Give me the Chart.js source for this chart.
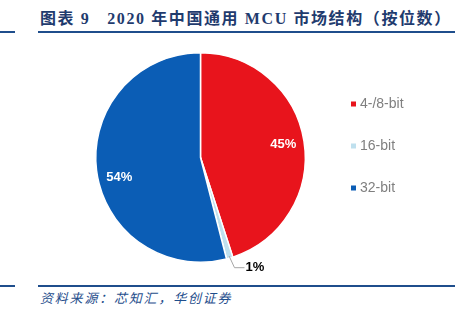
<!DOCTYPE html>
<html>
<head>
<meta charset="utf-8">
<script src="https://cdn.jsdelivr.net/npm/chart.js@4"></script>
<style>
  body { margin: 0; width: 455px; height: 322px; background: #fff; position: relative; overflow: hidden; }
  #title { position: absolute; left: 40px; top: 5px; font-family: "Liberation Serif", "Noto Sans CJK SC", serif; font-weight: bold; font-size: 16px; color: #1f3b6e; white-space: nowrap; letter-spacing: 1.6px; }
  .line { position: absolute; height: 2px; background: #1f4e8c; }
  #source { position: absolute; left: 40px; top: 288px; font-family: "Noto Sans CJK SC", sans-serif; font-style: italic; font-size: 13px; color: #1f4e8c; letter-spacing: 1.8px; }
  #wrap { position: absolute; left: 0; top: 40px; width: 455px; height: 240px; }
</style>
</head>
<body>
<div id="title">图表 9&nbsp;&nbsp;&nbsp;2020 年中国通用 MCU 市场结构（按位数）</div>
<div class="line" style="left:0;top:31px;width:15px"></div>
<div class="line" style="left:38px;top:31px;width:417px"></div>
<div class="line" style="left:0;top:285px;width:15px"></div>
<div class="line" style="left:38px;top:285px;width:417px"></div>
<div id="source">资料来源：芯知汇，华创证券</div>
<div id="wrap"><canvas id="pie"></canvas></div>
<script>
// data
var labels = ['4-/8-bit', '16-bit', '32-bit'];
var shares = [45, 1, 54];
var colors = ['#e8141c', '#bfe0ee', '#0b5db5'];

// slice labels + legend on the right
var pieText = {
  id: 'pieText',
  afterDraw: function (chart) {
    var ctx = chart.ctx;
    var arcs = chart.getDatasetMeta(0).data;
    ctx.save();
    ctx.textBaseline = 'middle';
    arcs.forEach(function (arc, i) {
      var txt = shares[i] + '%';
      var mid = (arc.startAngle + arc.endAngle) / 2;
      ctx.font = 'bold 13px "Liberation Sans", Arial, sans-serif';
      if (shares[i] < 5) {
        var r = arc.outerRadius;
        var x0 = arc.x + Math.cos(mid) * r * 0.98, y0 = arc.y + Math.sin(mid) * r * 0.98;
        var x1 = arc.x + Math.cos(mid) * (r + 10) + 2, y1 = arc.y + Math.sin(mid) * (r + 10);
        ctx.strokeStyle = '#a6a6a6';
        ctx.lineWidth = 1;
        ctx.beginPath();
        ctx.moveTo(x0, y0);
        ctx.lineTo(x1, y1);
        ctx.lineTo(x1 + 10, y1);
        ctx.stroke();
        ctx.fillStyle = '#000';
        ctx.textAlign = 'left';
        ctx.fillText(txt, x1 + 11, y1);
      } else {
        // 32-bit label sits a bit lower in the original
        var rr = arc.outerRadius * 0.8;
        var ang = i === 2 ? mid - 0.12 : mid;
        ctx.fillStyle = '#fff';
        ctx.textAlign = 'center';
        ctx.fillText(txt, arc.x + Math.cos(ang) * rr, arc.y + Math.sin(ang) * rr);
      }
    });
    // legend
    ctx.textAlign = 'left';
    ctx.font = '14px "Liberation Sans", Arial, sans-serif';
    labels.forEach(function (lab, i) {
      var y = 64 + i * 42;
      ctx.fillStyle = colors[i];
      ctx.fillRect(351, y - 2.5, 5, 5);
      ctx.fillStyle = '#7f7f7f';
      ctx.fillText(lab, 360, y);
    });
    ctx.restore();
  }
};

new Chart(document.getElementById('pie'), {
  type: 'pie',
  data: {
    labels: labels,
    datasets: [{
      data: shares,
      backgroundColor: colors,
      borderColor: '#fff',
      borderWidth: 1.5
    }]
  },
  options: {
    responsive: true,
    maintainAspectRatio: false,
    animation: false,
    layout: { padding: { left: 95, right: 149, top: 12, bottom: 17 } },
    plugins: { legend: { display: false }, tooltip: { enabled: false } }
  },
  plugins: [pieText]
});
</script>
</body>
</html>
